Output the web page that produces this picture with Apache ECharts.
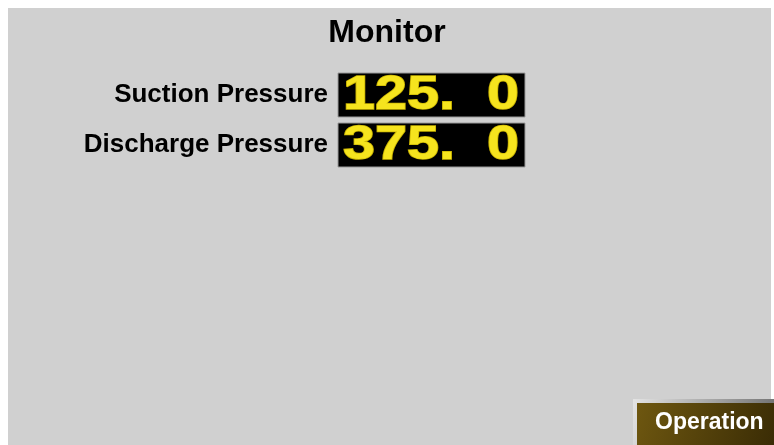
<!DOCTYPE html>
<html>
<head>
<meta charset="utf-8">
<script src="https://cdn.jsdelivr.net/npm/echarts@6/dist/echarts.min.js"></script>
<style>
  html, body { margin: 0; padding: 0; background: #fff; }
  #main { width: 774px; height: 445px; }
</style>
</head>
<body>
<div id="main"></div>
<script>
// 数据
var categories = ['Suction Pressure', 'Discharge Pressure']
var pressures = [125.0, 375.0]
var titleText = 'Monitor'
var buttonText = 'Operation'

var myChart = echarts.init(document.getElementById('main'))
var sans = '"Liberation Sans", Arial, sans-serif'

// 显示格式 125. 0
function fmt(v) {
  return v.toFixed(1).replace('.', '.  ')
}

var option = {
  backgroundColor: '#fff',
  animation: false,
  title: {
    text: titleText,
    left: 'center',
    top: 12,
    textStyle: {
      fontFamily: sans,
      fontSize: 32,
      fontWeight: 'bold',
      color: '#000'
    }
  },
  graphic: [
    // 灰色面板
    {
      type: 'rect',
      z: -10,
      shape: { x: 8, y: 8, width: 763, height: 437 },
      style: { fill: '#d0d0d0' }
    },
    // Operation 按钮
    {
      type: 'group',
      left: 633,
      top: 399,
      children: [
        {
          type: 'rect',
          shape: { x: 0, y: 0, width: 141, height: 46 },
          style: {
            fill: new echarts.graphic.LinearGradient(0, 0, 1, 1, [
              { offset: 0, color: '#e4e4e4' },
              { offset: 1, color: '#6a6a6a' }
            ])
          }
        },
        {
          type: 'rect',
          shape: { x: 4, y: 4, width: 137, height: 42 },
          style: {
            fill: new echarts.graphic.LinearGradient(0, 0, 1, 1, [
              { offset: 0, color: '#6e5710' },
              { offset: 1, color: '#3a2c05' }
            ])
          }
        },
        {
          type: 'text',
          x: 22,
          y: 24,
          style: {
            text: buttonText,
            fontFamily: sans,
            fontSize: 23,
            fontWeight: 'bold',
            fill: '#fff',
            verticalAlign: 'middle'
          }
        }
      ]
    }
  ],
  grid: { left: 338, top: 70, width: 187, height: 100 },
  xAxis: { type: 'value', show: false, min: 0, max: 500 },
  yAxis: {
    type: 'category',
    data: categories,
    inverse: true,
    axisLine: { show: false },
    axisTick: { show: false },
    splitLine: { show: false },
    axisLabel: {
      margin: 10,
      fontFamily: sans,
      fontSize: 26,
      fontWeight: 'bold',
      color: '#000'
    }
  },
  series: [
    {
      type: 'custom',
      data: pressures.map(function (v, i) { return [v, i] }),
      encode: { x: 0, y: 1 },
      renderItem: function (params, api) {
        var cs = params.coordSys
        var cy = api.coord([api.value(0), api.value(1)])[1]
        var h = api.size([0, 1])[1] * 0.88
        return {
          type: 'group',
          children: [
            {
              type: 'rect',
              shape: { x: cs.x, y: cy - h / 2, width: cs.width, height: h },
              style: { fill: '#000', stroke: '#9a9a9a', lineWidth: 1 }
            },
            {
              type: 'text',
              x: cs.x + 5,
              y: cy + 1,
              scaleX: 1.2,
              z2: 10,
              style: {
                text: fmt(api.value(0)),
                fontFamily: sans,
                fontSize: 48,
                fontWeight: 'bold',
                fill: '#f6e41e',
                stroke: '#c8b200',
                lineWidth: 1.5,
                verticalAlign: 'middle'
              }
            }
          ]
        }
      }
    }
  ]
}

myChart.setOption(option)
</script>
</body>
</html>
